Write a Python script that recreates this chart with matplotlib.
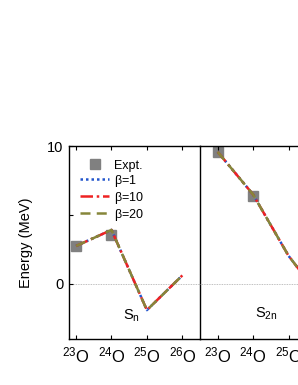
import numpy as np
import matplotlib
matplotlib.use("Agg")
import matplotlib.pyplot as plt
from matplotlib.ticker import MultipleLocator

plt.rcParams['font.family'] = ['Liberation Sans', 'DejaVu Sans']
plt.rcParams['mathtext.fontset'] = 'custom'
plt.rcParams['mathtext.rm'] = 'Liberation Sans'
plt.rcParams['mathtext.it'] = 'Liberation Sans'

# mass numbers of the oxygen isotopes
isotopes = [23, 24, 25, 26]
tick_labels = [r'$^{23}$O', r'$^{24}$O', r'$^{25}$O', r'$^{26}$O']

# S_n (MeV)
sn_expt_x = [23, 24]
sn_expt = [2.73, 3.58]
sn_b1 = [2.76, 3.93, -1.90, 0.62]
sn_b10 = [2.76, 3.93, -1.90, 0.62]
sn_b20 = [2.76, 3.93, -1.90, 0.62]

# S_2n (MeV)
s2n_expt_x = [23, 24]
s2n_expt = [9.57, 6.37]
s2n_b1 = [9.60, 6.50, 2.05, -1.30]
s2n_b10 = [9.60, 6.50, 2.05, -1.30]
s2n_b20 = [9.60, 6.50, 2.05, -1.30]

fig = plt.figure(figsize=(2.98, 3.85), dpi=100)
ax1 = fig.add_axes([69 / 298, 46 / 385, 131 / 298, 192.6 / 385])
ax2 = fig.add_axes([200 / 298, 46 / 385, 131 / 298, 192.6 / 385])
ax2.set_facecolor('none')

styles = [
    dict(color='#2255cc', ls=(0, (1, 1.2)), lw=1.8, label=r'$\beta$=1'),
    dict(color='#ee2222', ls=(0, (5, 1.5, 1, 1.5)), lw=1.8, label=r'$\beta$=10'),
    dict(color='#86863a', ls=(0, (4, 2.5)), lw=1.8, label=r'$\beta$=20'),
]

for ax, ex_x, ex_y, calc, xlim in [
    (ax1, sn_expt_x, sn_expt, [sn_b1, sn_b10, sn_b20], (22.8, 26.5)),
    (ax2, s2n_expt_x, s2n_expt, [s2n_b1, s2n_b10, s2n_b20], (22.5, 26.2)),
]:
    ax.axhline(0, color='#aaaaaa', lw=0.6, ls=(0, (1, 1)), zorder=0)
    ax.plot(ex_x, ex_y, 's', color='#808080', ms=6.5, label='Expt.', zorder=1)
    for vals, st in zip(calc, styles):
        ax.plot(isotopes, vals, zorder=2, **st)
    ax.set_xlim(*xlim)
    ax.set_ylim(-4, 10)
    ax.set_xticks(isotopes)
    ax.set_xticklabels(tick_labels, fontsize=12)
    ax.yaxis.set_major_locator(MultipleLocator(10))
    ax.yaxis.set_minor_locator(MultipleLocator(5))
    ax.tick_params(direction='in', top=True, right=False, length=3, width=0.8,
                   labelsize=10.5)
    ax.tick_params(axis='x', pad=5, labelsize=12)
    ax.tick_params(axis='y', which='minor', direction='in', length=3, width=0.8)
    for sp in ax.spines.values():
        sp.set_linewidth(1.0)

ax1.text(24.32, -1.75, r'S$_{\rm n}$', fontsize=10.5, va='top', ha='left')
ax2.text(24.05, -1.6, r'S$_{\rm 2n}$', fontsize=10.5, va='top', ha='left')

ax2.tick_params(axis='y', which='both', left=False, labelleft=False)
ax2.spines['left'].set_visible(False)

ax1.set_ylabel('Energy (MeV)', fontsize=10.5, labelpad=10)
ax1.tick_params(axis='y', pad=4)

handles, labels = ax1.get_legend_handles_labels()
ax1.legend(handles, labels, loc='upper left', bbox_to_anchor=(0.03, 0.97), frameon=False,
           fontsize=9, handlelength=2.3, handletextpad=0.35, labelspacing=0.08,
           borderaxespad=0.2)

fig.savefig('out.png', dpi=100)
